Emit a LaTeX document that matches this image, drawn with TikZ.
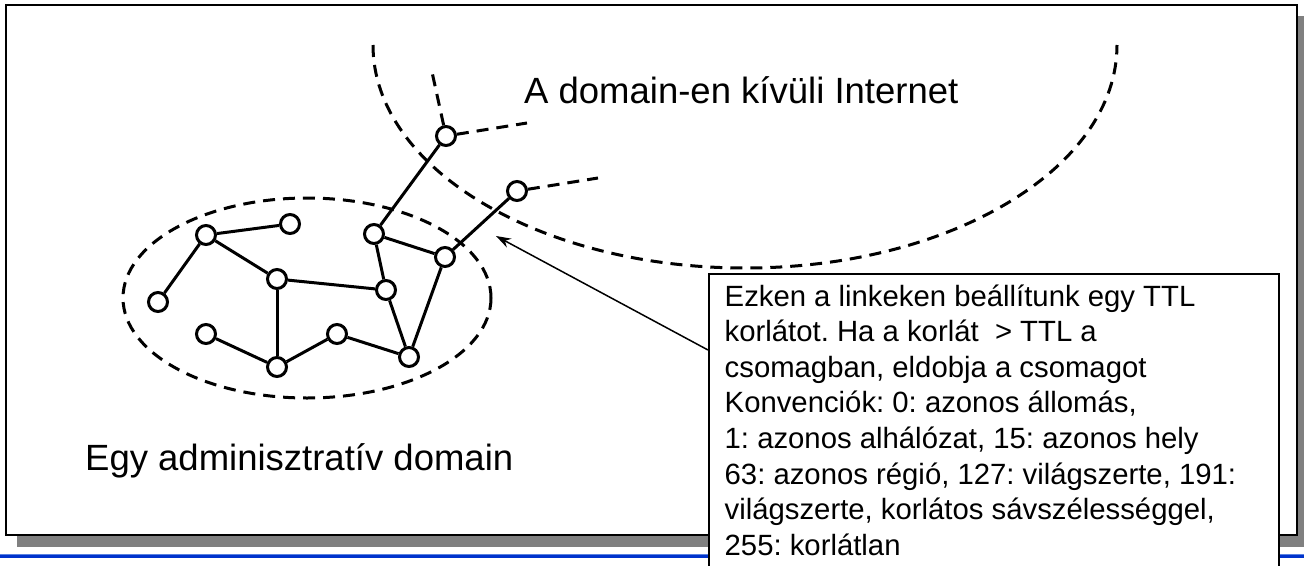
\documentclass[tikz,border=0pt]{standalone}
\usepackage{fontspec}
\setmainfont{Liberation Sans}
\usetikzlibrary{arrows.meta}
\definecolor{shadowgray}{RGB}{128,128,128}
\definecolor{bandblue}{RGB}{0,51,204}
\definecolor{bandlight}{RGB}{90,130,225}
\frenchspacing
\begin{document}
\begin{tikzpicture}[x=1pt,y=-1pt,
  router/.style={circle, draw, line width=3pt, fill=white, minimum size=19pt, inner sep=0pt},
  link/.style={line width=3pt},
  boundary/.style={line width=3pt, dash pattern=on 12pt off 8pt},
  biglabel/.style={inner sep=0pt, anchor=base west, font=\fontsize{36.5}{44}\selectfont},
  pointer/.style={line width=1.5pt, -{Stealth[length=15pt,width=10pt]}}]
\useasboundingbox (0,0) rectangle (1304,565);
% frame with shadow
\fill[shadowgray] (17,16) rectangle (1310,547);
\draw[line width=2.5pt, fill=white] (6,5) rectangle (1297,535);
% blue band
\fill[bandblue] (0,554) rectangle (1304,558);
\draw[bandlight, line width=0.8pt] (0,554) -- (1304,554);
% regions
\draw[boundary] (307,298) ellipse [x radius=184pt, y radius=100pt];
\draw[boundary] (373,45) arc[start angle=180, end angle=360, x radius=372pt, y radius=223pt];
% routers
\node[router] (n1) at (206,235) {};
\node[router] (n2) at (290,224) {};
\node[router] (n3) at (158,302) {};
\node[router] (n4) at (277,279) {};
\node[router] (n5) at (206,334) {};
\node[router] (n6) at (277,367) {};
\node[router] (n7) at (337,334) {};
\node[router] (n8) at (374,234) {};
\node[router] (n9) at (386,290) {};
\node[router] (n10) at (445,257) {};
\node[router] (n11) at (409,357) {};
\node[router] (n12) at (446,136) {};
\node[router] (n13) at (517,191) {};
% links
\draw[link] (n1) -- (n2);
\draw[link] (n1) -- (n3);
\draw[link] (n1) -- (n4);
\draw[link] (n4) -- (n9);
\draw[link] (n4) -- (n6);
\draw[link] (n5) -- (n6);
\draw[link] (n6) -- (n7);
\draw[link] (n7) -- (n11);
\draw[link] (n9) -- (n11);
\draw[link] (n8) -- (n9);
\draw[link] (n8) -- (n10);
\draw[link] (n10) -- (n11);
\draw[link] (n8) -- (n12);
\draw[link] (n10) -- (n13);
% outside links
\coordinate (o1) at (527,123);
\coordinate (o2) at (598,178);
\coordinate (o3) at (432,72);
\draw[boundary] (n12) -- (o1);
\draw[boundary] (n13) -- (o2);
\draw[boundary] (n12) -- (o3);
% labels
\node[biglabel] (inet) at (524,103) {A domain-en kívüli Internet};
\node[biglabel] (admin) at (85,470) {Egy adminisztratív domain};
% callout
\node[draw, line width=1.5pt, fill=white, anchor=north west, minimum width=570pt, minimum height=320pt, inner sep=0pt] (callout) at (708,273) {};
\node[anchor=base west, inner sep=0pt] (note) at (724.5,306) {\parbox[t]{550pt}{\raggedright\fontsize{29.3}{35.6}\selectfont
Ezken a linkeken beállítunk egy TTL\\
korlátot. Ha a korlát \ > TTL a\\
csomagban, eldobja a csomagot\\
Konvenciók: 0: azonos állomás,\\
1: azonos alhálózat, 15: azonos hely\\
63: azonos régió, 127: világszerte, 191:\\
világszerte, korlátos sávszélességgel,\\
255: korlátlan}};
\coordinate (tail) at (708,350);
\coordinate (tip) at (496,236);
\draw[pointer] (tail) -- (tip);
\end{tikzpicture}
\end{document}
